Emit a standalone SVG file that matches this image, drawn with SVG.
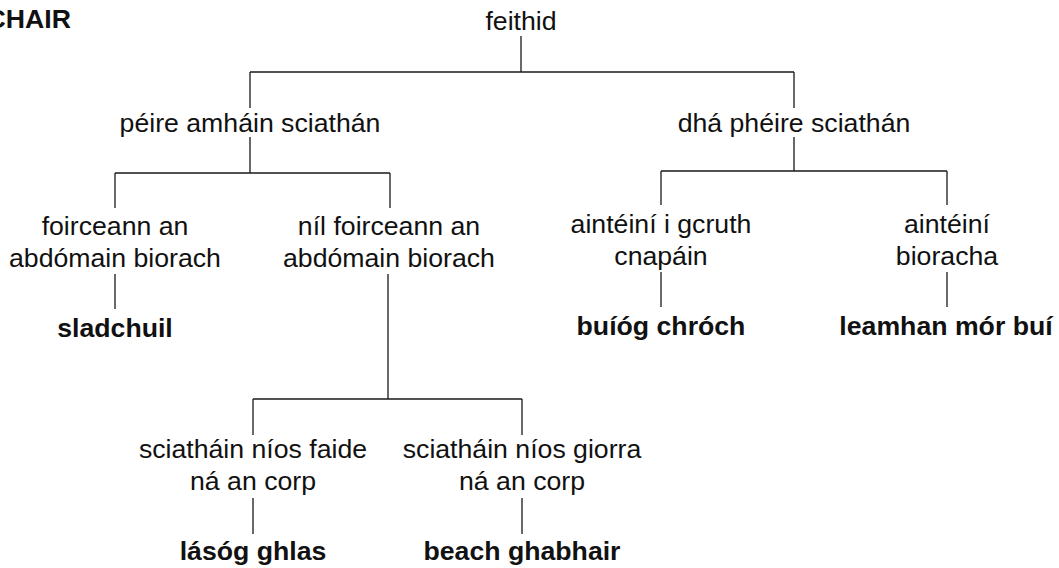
<svg xmlns="http://www.w3.org/2000/svg" width="1059" height="568" viewBox="0 0 1059 568">
<style>
text{font-family:"Liberation Sans",Arial,sans-serif;font-size:26.67px;fill:#111;text-anchor:middle}
.b{font-weight:bold}
.t{text-anchor:end}
#connectors path{fill:none;stroke:#1a1a1a;stroke-width:1.3}
</style>
<rect width="1059" height="568" fill="#fff"/>
<g id="connectors">
<path d="M521 36V72M250 72H794M250 72V108M794 72V108"/>
<path d="M250 137V173M115 173H390M115 173V208M390 173V208"/>
<path d="M794 137V171M661 171H947M661 171V205M947 171V205"/>
<path d="M115 274V309M661 272V307M947 272V307"/>
<path d="M388 274V399M253 399H522M253 399V435M522 399V435"/>
<path d="M253 498V534M522 498V534"/>
</g>
<g id="title"><text class="b t" x="71" y="28">CHAIR</text></g>
<g id="n-root"><text x="521" y="30">feithid</text></g>
<g id="n-one-pair"><text x="250" y="132">péire amháin sciathán</text></g>
<g id="n-two-pair"><text x="794" y="132">dhá phéire sciathán</text></g>
<g id="n-pointed"><text x="115" y="235">foirceann an</text><text x="115" y="267">abdómain biorach</text></g>
<g id="n-not-pointed"><text x="389" y="235">níl foirceann an</text><text x="389" y="267">abdómain biorach</text></g>
<g id="n-knob"><text x="661" y="233">aintéiní i gcruth</text><text x="661" y="265">cnapáin</text></g>
<g id="n-pointed-ant"><text x="947" y="233">aintéiní</text><text x="947" y="265">bioracha</text></g>
<g id="n-sladchuil"><text class="b" x="115" y="337">sladchuil</text></g>
<g id="n-buiog"><text class="b" x="661" y="335">buíóg chróch</text></g>
<g id="n-leamhan"><text class="b" x="946" y="335">leamhan mór buí</text></g>
<g id="n-longer"><text x="253" y="458">sciatháin níos faide</text><text x="253" y="490">ná an corp</text></g>
<g id="n-shorter"><text x="522" y="458">sciatháin níos giorra</text><text x="522" y="490">ná an corp</text></g>
<g id="n-lasog"><text class="b" x="253" y="560">lásóg ghlas</text></g>
<g id="n-beach"><text class="b" x="522" y="560">beach ghabhair</text></g>
</svg>
